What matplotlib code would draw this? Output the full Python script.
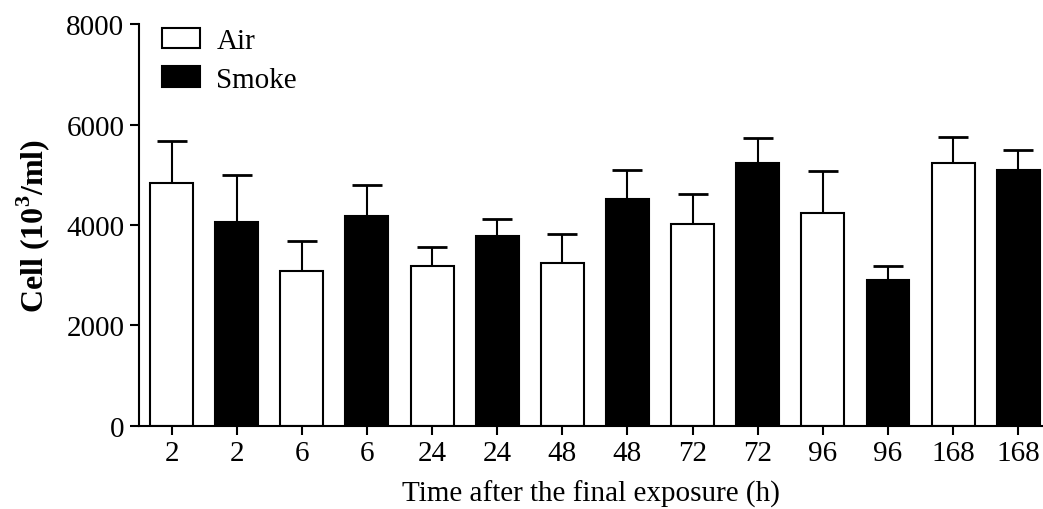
import matplotlib
matplotlib.use("Agg")
import matplotlib.pyplot as plt
import numpy as np
from matplotlib.patches import Patch

plt.rcParams['font.family'] = ['Liberation Serif', 'DejaVu Serif']
plt.rcParams['mathtext.fontset'] = 'custom'
plt.rcParams['mathtext.rm'] = 'Liberation Serif'
plt.rcParams['mathtext.bf'] = 'Liberation Serif:bold'

# time points (h) after the final exposure, Air / Smoke alternating
times = ['2', '2', '6', '6', '24', '24', '48', '48', '72', '72', '96', '96', '168', '168']
groups = ['Air', 'Smoke'] * 7
means = [4845, 4055, 3085, 4175, 3190, 3790, 3250, 4520, 4020, 5235, 4235, 2910, 5235, 5105]
sem = [825, 950, 590, 630, 373, 333, 565, 571, 598, 492, 850, 279, 524, 392]

colors = {'Air': 'white', 'Smoke': 'black'}

def main():
    fig = plt.figure(figsize=(10.43, 5.10), dpi=100)
    ax = fig.add_axes([0.1333, 0.1633, 0.8667, 0.7869])

    x = np.arange(len(means))
    ax.bar(x, means, width=0.66, color=[colors[g] for g in groups],
           edgecolor='black', linewidth=1.5, zorder=2)
    # upper error bars only
    ax.errorbar(x, means, yerr=[np.zeros(len(sem)), sem], fmt='none',
                ecolor='black', elinewidth=1.5, capsize=11, capthick=2, zorder=1)

    ax.set_xlim(-0.5, 13.38)
    ax.set_ylim(0, 8000)
    ax.set_yticks([0, 2000, 4000, 6000, 8000])
    ax.set_xticks(x)
    ax.set_xticklabels(times)

    for s in ['top', 'right']:
        ax.spines[s].set_visible(False)
    for s in ['left', 'bottom']:
        ax.spines[s].set_linewidth(1.5)
    ax.tick_params(axis='both', direction='out', length=6.5, width=1.5,
                   labelsize=21, pad=4)

    ax.set_xlabel('Time after the final exposure (h)', fontsize=21, labelpad=10)
    ax.set_ylabel(r'Cell (10$^\mathbf{3}$/ml)', fontsize=23, fontweight='bold', labelpad=10)

    handles = [Patch(facecolor='white', edgecolor='black', linewidth=1.5, label='Air'),
               Patch(facecolor='black', edgecolor='black', linewidth=1.5, label='Smoke')]
    ax.legend(handles=handles, loc='upper left', bbox_to_anchor=(0.0, 1.05),
              frameon=False, fontsize=21, handlelength=1.3, handleheight=0.7,
              labelspacing=0.42, handletextpad=0.55, borderpad=0.3)

    fig.savefig('out.png', dpi=100)

if __name__ == "__main__":
    main()
